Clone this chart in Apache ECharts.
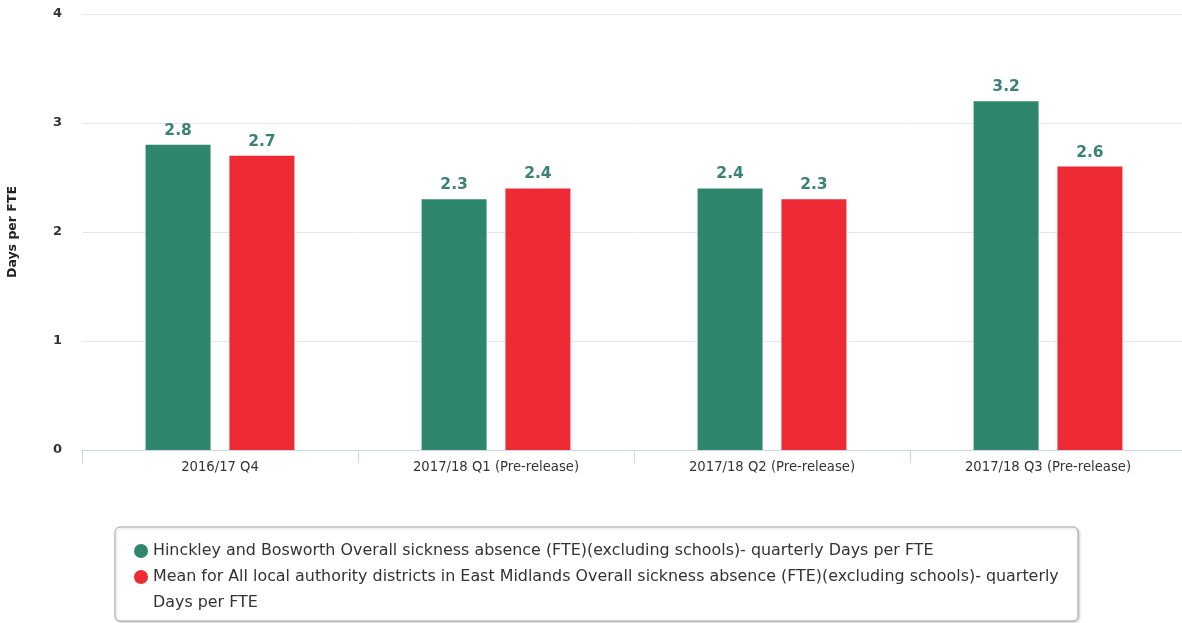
<!DOCTYPE html>
<html>
<head>
<meta charset="utf-8">
<script src="https://cdn.jsdelivr.net/npm/echarts@6/dist/echarts.min.js"></script>
<style>
  html, body { margin: 0; padding: 0; background: #ffffff; }
  #chart { width: 1182px; height: 623px; }
</style>
</head>
<body>
<div id="chart"></div>
<script>
// Quarterly sickness absence, days per FTE
const categories = [
  '2016/17 Q4',
  '2017/18 Q1 (Pre-release)',
  '2017/18 Q2 (Pre-release)',
  '2017/18 Q3 (Pre-release)'
];
const seriesNames = [
  'Hinckley and Bosworth Overall sickness absence (FTE)(excluding schools)- quarterly Days per FTE',
  'Mean for All local authority districts in East Midlands Overall sickness absence (FTE)(excluding schools)- quarterly Days per FTE'
];
const hinckleyValues = [2.8, 2.3, 2.4, 3.2];
const eastMidlandsValues = [2.7, 2.4, 2.3, 2.6];
const yTicks = [0, 1, 2, 3, 4];

const FONT = '"DejaVu Sans", sans-serif';
const LEGEND_LINE = 26;

const labelStyle = {
  show: true,
  position: 'top',
  distance: 6,
  color: '#3a8276',
  fontFamily: FONT,
  fontWeight: 'bold',
  fontSize: 15.5
};

const chart = echarts.init(document.getElementById('chart'), null, { renderer: 'canvas' });
chart.setOption({
  animation: false,
  backgroundColor: '#ffffff',
  grid: {
    left: 82, top: 14, width: 1104, height: 436,
    containLabel: false,
    outerBoundsMode: 'none'
  },
  xAxis: {
    type: 'category',
    data: categories,
    axisLine: { lineStyle: { color: '#ccd6eb', width: 1 } },
    axisTick: { show: true, length: 13, lineStyle: { color: '#ccd6eb' } },
    axisLabel: { color: '#333333', fontFamily: FONT, fontSize: 13.2, margin: 11 }
  },
  yAxis: {
    type: 'value',
    min: yTicks[0],
    max: yTicks[yTicks.length - 1],
    interval: 1,
    name: 'Days per FTE',
    nameLocation: 'middle',
    nameGap: 63,
    nameTextStyle: { color: '#222222', fontFamily: FONT, fontSize: 12.5, fontWeight: 'bold' },
    axisLine: { show: false },
    axisTick: { show: false },
    axisLabel: { color: '#333333', fontFamily: FONT, fontSize: 13, fontWeight: 'bold', margin: 20 },
    splitLine: { lineStyle: { color: '#e6e6e6', width: 1 } }
  },
  legend: {
    orient: 'vertical',
    left: 115,
    top: 527,
    height: 200,
    padding: [11, 13, 5, 19],
    itemGap: -LEGEND_LINE,
    itemWidth: 14,
    itemHeight: 14,
    icon: 'circle',
    borderColor: '#a8a8a8',
    borderWidth: 1,
    borderRadius: 5,
    shadowColor: 'rgba(0,0,0,0.22)',
    shadowBlur: 3,
    shadowOffsetX: 1,
    shadowOffsetY: 1,
    backgroundColor: '#ffffff',
    // a leading blank line keeps the first line of a wrapped entry level with its marker
    formatter: function (name) {
      return name === seriesNames[1] ? '\n' + name : name;
    },
    textStyle: {
      color: '#333333',
      fontFamily: FONT,
      fontSize: 15.9,
      width: 912,
      overflow: 'break',
      lineHeight: LEGEND_LINE
    },
    data: seriesNames
  },
  series: [
    {
      name: seriesNames[0],
      type: 'bar',
      data: hinckleyValues,
      barWidth: 65,
      barGap: '29%',
      itemStyle: { color: '#2e876d' },
      label: labelStyle
    },
    {
      name: seriesNames[1],
      type: 'bar',
      data: eastMidlandsValues,
      barWidth: 65,
      barGap: '29%',
      itemStyle: { color: '#ee2b34' },
      label: labelStyle
    }
  ]
});
</script>
</body>
</html>
